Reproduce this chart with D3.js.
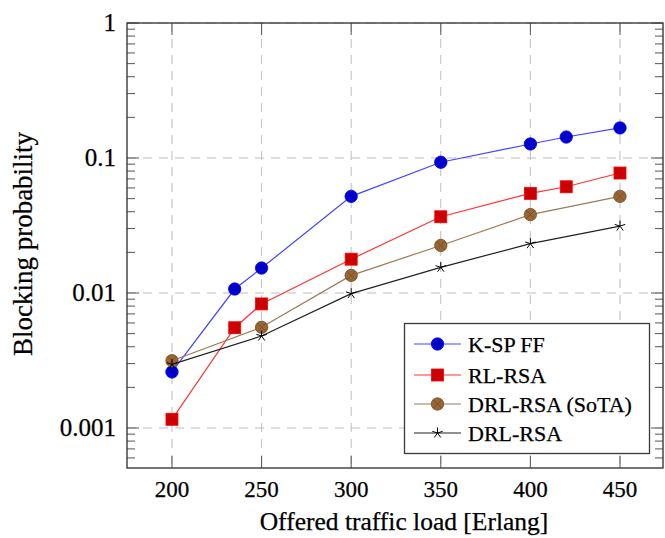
<!DOCTYPE html>
<html><head><meta charset="utf-8">
<script src="https://cdn.jsdelivr.net/npm/d3@7"></script>
<style>html,body{margin:0;padding:0;background:#fff;} svg{display:block;} text{font-family:"Liberation Serif","DejaVu Serif",serif;fill:#000;stroke:#000;stroke-width:0.25px;}</style>
</head><body>
<svg id="c" width="665" height="538"></svg>
<script>
const loadsA = [200, 235, 250, 300, 350, 400, 420, 450];
const loadsB = [200, 250, 300, 350, 400, 450];
const kspFF = [0.0026, 0.0107, 0.0153, 0.052, 0.093, 0.127, 0.143, 0.167];
const rlRSA = [0.00116, 0.00553, 0.0083, 0.0178, 0.0367, 0.0547, 0.0612, 0.0774];
const drlSoTA = [0.00315, 0.00557, 0.0135, 0.0225, 0.0381, 0.052];
const drlRSA = [0.00296, 0.0048, 0.0099, 0.0155, 0.0232, 0.0313];
const xTicks = [200, 250, 300, 350, 400, 450];
const yTicks = [1, 0.1, 0.01, 0.001];
const yTickLabels = ["1", "0.1", "0.01", "0.001"];
const seriesNames = ["K-SP FF", "RL-RSA", "DRL-RSA (SoTA)", "DRL-RSA"];

const svg = d3.select("#c");
const L = 127, R = 663, T = 23, B = 468;
const x = d3.scaleLinear().domain([174.9, 474]).range([L, R]);
const y = d3.scaleLog().domain([Math.pow(10, -3.2963), 1]).range([B, T]);

// grid
const g = svg.append("g");
g.selectAll(".gx").data(xTicks).enter().append("line")
  .attr("x1", d => x(d)).attr("x2", d => x(d)).attr("y1", T).attr("y2", B)
  .attr("stroke", "#bdbdbd").attr("stroke-width", 1).attr("stroke-dasharray", "9,7");
g.selectAll(".gy").data(yTicks).enter().append("line")
  .attr("x1", L).attr("x2", R).attr("y1", d => y(d)).attr("y2", d => y(d))
  .attr("stroke", "#bdbdbd").attr("stroke-width", 1).attr("stroke-dasharray", "9,7");

// minor ticks
const minor = [];
for (let e = -4; e <= 0; e++) for (let m = 2; m <= 9; m++) {
  const v = m * Math.pow(10, e);
  if (v > y.domain()[0] && v < 1) minor.push(v);
}
const tk = svg.append("g").attr("stroke", "#555").attr("stroke-width", 1);
minor.forEach(v => {
  tk.append("line").attr("x1", L).attr("x2", L + 8).attr("y1", y(v)).attr("y2", y(v));
  tk.append("line").attr("x1", R - 8).attr("x2", R).attr("y1", y(v)).attr("y2", y(v));
});
yTicks.forEach(v => {
  tk.append("line").attr("x1", L).attr("x2", L + 12).attr("y1", y(v)).attr("y2", y(v));
  tk.append("line").attr("x1", R - 12).attr("x2", R).attr("y1", y(v)).attr("y2", y(v));
});
xTicks.forEach(v => {
  tk.append("line").attr("x1", x(v)).attr("x2", x(v)).attr("y1", B).attr("y2", B - 12);
  tk.append("line").attr("x1", x(v)).attr("x2", x(v)).attr("y1", T).attr("y2", T + 12);
});

// frame
svg.append("rect").attr("x", L).attr("y", T).attr("width", R - L).attr("height", B - T)
  .attr("fill", "none").attr("stroke", "#3a3a3a").attr("stroke-width", 1.4);

// tick labels
svg.selectAll(".xl").data(xTicks).enter().append("text")
  .attr("x", d => x(d)).attr("y", 497).attr("text-anchor", "middle")
  .attr("font-size", 23).text(d => d);
svg.selectAll(".yl").data(yTicks).enter().append("text")
  .attr("x", 116).attr("y", d => y(d) + 8).attr("text-anchor", "end")
  .attr("font-size", 25).text((d, i) => yTickLabels[i]);

// axis titles
svg.append("text").attr("x", 404).attr("y", 530).attr("text-anchor", "middle")
  .attr("font-size", 25.5).text("Offered traffic load [Erlang]");
svg.append("text").attr("transform", "translate(32,244) rotate(-90)").attr("text-anchor", "middle")
  .attr("font-size", 27).text("Blocking probability");

// series
const series = [
  {name: seriesNames[0], xs: loadsA, ys: kspFF, line: "#4444ff", stroke: "#0000ff", fill: "#0000cc", mark: "circle"},
  {name: seriesNames[1], xs: loadsA, ys: rlRSA, line: "#ff3333", stroke: "#ff0000", fill: "#cc0000", mark: "square"},
  {name: seriesNames[2], xs: loadsB, ys: drlSoTA, line: "#9c7a58", stroke: "#734d26", fill: "#996633", mark: "otimes"},
  {name: seriesNames[3], xs: loadsB, ys: drlRSA, line: "#222", stroke: "#000", fill: "#000", mark: "star"}
];

function drawMark(sel, s, cx, cy) {
  const gm = sel.append("g").attr("transform", `translate(${cx},${cy})`);
  if (s.mark === "circle") {
    gm.append("circle").attr("r", 6.2).attr("fill", s.fill).attr("stroke", s.stroke).attr("stroke-width", 0.8);
  } else if (s.mark === "square") {
    gm.append("rect").attr("x", -6).attr("y", -6).attr("width", 12).attr("height", 12)
      .attr("fill", s.fill).attr("stroke", s.stroke).attr("stroke-width", 0.8);
  } else if (s.mark === "otimes") {
    gm.append("circle").attr("r", 6.2).attr("fill", s.fill).attr("stroke", s.stroke).attr("stroke-width", 0.8);
    const k = 6.2 * Math.SQRT1_2;
    gm.append("line").attr("x1", -k).attr("y1", -k).attr("x2", k).attr("y2", k).attr("stroke", s.stroke).attr("stroke-width", 0.8);
    gm.append("line").attr("x1", -k).attr("y1", k).attr("x2", k).attr("y2", -k).attr("stroke", s.stroke).attr("stroke-width", 0.8);
  } else if (s.mark === "star") {
    for (let i = 0; i < 5; i++) {
      const a = -Math.PI / 2 + i * 2 * Math.PI / 5;
      gm.append("line").attr("x1", 0).attr("y1", 0).attr("x2", 5.5 * Math.cos(a)).attr("y2", 5.5 * Math.sin(a))
        .attr("stroke", s.stroke).attr("stroke-width", 1);
    }
  }
}

const lineGen = d3.line().x(d => x(d[0])).y(d => y(d[1]));
series.forEach(s => {
  const pts = s.xs.map((v, i) => [v, s.ys[i]]);
  svg.append("path").datum(pts).attr("d", lineGen).attr("fill", "none")
    .attr("stroke", s.line).attr("stroke-width", 1.2);
  const gm = svg.append("g");
  pts.forEach(p => drawMark(gm, s, x(p[0]), y(p[1])));
});

// legend
const lg = svg.append("g");
lg.append("rect").attr("x", 404.5).attr("y", 323.5).attr("width", 245).attr("height", 130)
  .attr("fill", "#fff").attr("stroke", "#3a3a3a").attr("stroke-width", 1.3);
const ly = [344, 375, 404, 433];
series.forEach((s, i) => {
  lg.append("line").attr("x1", 414).attr("x2", 461).attr("y1", ly[i]).attr("y2", ly[i])
    .attr("stroke", s.line).attr("stroke-width", 1.2);
  drawMark(lg, s, 437.5, ly[i]);
  lg.append("text").attr("x", 468).attr("y", ly[i] + 7.5).attr("font-size", 22).text(s.name);
});
</script>
</body></html>
